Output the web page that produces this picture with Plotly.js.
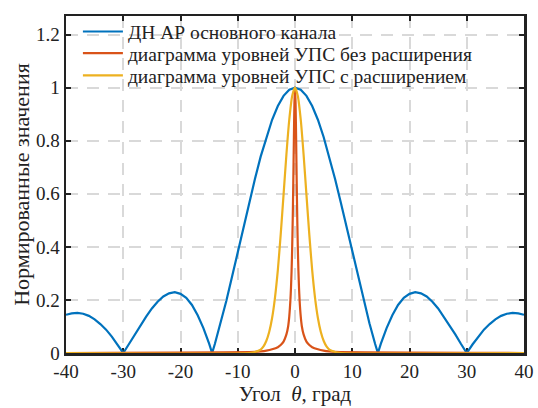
<!DOCTYPE html>
<html>
<head>
<meta charset="utf-8">
<script src="https://cdn.plot.ly/plotly-3.0.1.min.js"></script>
<style>html,body{margin:0;padding:0;background:#fff;}#chart{width:538px;height:408px;}</style>
</head>
<body>
<div id="chart"></div>
<script>
// Main array pattern (blue)
var blueTheta = [-40,-39,-38,-37,-36,-35,-34,-33,-32,-31,-30,-29,-28,-27,-26,-25,-24,-23,-22,-21,-20,-19,-18,-17,-16,-15,-14.48,-14,-13,-12,-11,-10,-9,-8,-7,-6,-5,-4,-3,-2,-1,0,1,2,3,4,5,6,7,8,9,10,11,12,13,14,14.48,15,16,17,18,19,20,21,22,23,24,25,26,27,28,29,30,31,32,33,34,35,36,37,38,39,40];
var blueVal = [0.144,0.149,0.151,0.148,0.140,0.127,0.109,0.088,0.062,0.032,0,0.034,0.070,0.104,0.137,0.168,0.193,0.213,0.225,0.229,0.223,0.208,0.181,0.142,0.094,0.035,0,0.034,0.112,0.196,0.287,0.380,0.474,0.567,0.656,0.740,0.814,0.879,0.931,0.969,0.992,1,0.992,0.969,0.931,0.879,0.814,0.740,0.656,0.567,0.474,0.380,0.287,0.196,0.112,0.034,0,0.035,0.094,0.142,0.181,0.208,0.223,0.229,0.225,0.213,0.193,0.168,0.137,0.104,0.070,0.034,0,0.032,0.062,0.088,0.109,0.127,0.140,0.148,0.151,0.149,0.144];

// Level diagram without expansion (red)
var redTheta = [-40,-7,-6,-5,-4,-3,-2.5,-2,-1.5,-1.2,-1,-0.8,-0.7,-0.6,-0.5,-0.4,-0.3,-0.2,-0.1,0,0.1,0.2,0.3,0.4,0.5,0.6,0.7,0.8,1,1.2,1.5,2,2.5,3,4,5,6,7,40];
var redVal = [0,0.004,0.006,0.009,0.014,0.022,0.03,0.043,0.07,0.1,0.138,0.2,0.246,0.308,0.39,0.5,0.64,0.8,0.941,1,0.941,0.8,0.64,0.5,0.39,0.308,0.246,0.2,0.138,0.1,0.07,0.043,0.03,0.022,0.014,0.009,0.006,0.004,0];

// Level diagram with expansion (yellow)
var yelTheta = [-40,-8,-7,-6,-5.5,-5,-4.5,-4,-3.5,-3,-2.5,-2,-1.5,-1,-0.5,0,0.5,1,1.5,2,2.5,3,3.5,4,4.5,5,5.5,6,7,8,40];
var yelVal = [0,0,0.004,0.013,0.025,0.046,0.08,0.132,0.208,0.312,0.446,0.596,0.748,0.88,0.968,1,0.968,0.88,0.748,0.596,0.446,0.312,0.208,0.132,0.08,0.046,0.025,0.013,0.004,0,0];

var names = ['ДН АР основного канала','диаграмма уровней УПС без расширения','диаграмма уровней УПС с расширением'];
var colors = ['#0072BD','#D95319','#EDB120'];
var xTicks = [-40,-30,-20,-10,0,10,20,30,40];
var yTicks = [0,0.2,0.4,0.6,0.8,1,1.2];
var yTickText = ['0','0.2','0.4','0.6','0.8','1','1.2'];

var font = "'Liberation Serif', 'Times New Roman', serif";
var traces = [
  {x: blueTheta, y: blueVal, name: names[0], mode: 'lines', legend: 'legend', line: {color: colors[0], width: 2.2}},
  {x: redTheta, y: redVal, name: names[1], mode: 'lines', legend: 'legend2', line: {color: colors[1], width: 2.2, shape: 'spline', smoothing: 0.6}},
  {x: yelTheta, y: yelVal, name: names[2], mode: 'lines', legend: 'legend3', line: {color: colors[2], width: 2.2, shape: 'spline', smoothing: 0.6}}
];
var axisCommon = {
  showline: true, linecolor: '#222', linewidth: 2.5, mirror: 'ticks',
  ticks: 'inside', ticklen: 5, tickwidth: 2, tickcolor: '#222',
  showgrid: true, gridcolor: '#d9d9d9', gridwidth: 2, griddash: '12px,9px',
  zeroline: false, layer: 'below traces',
  tickfont: {family: font, size: 19, color: '#222'}
};
function leg(yc) {
  return {x: 0.026, y: yc, xanchor: 'left', yanchor: 'middle', bgcolor: 'rgba(0,0,0,0)',
          font: {family: font, size: 19.5, color: '#222'}, itemwidth: 40};
}
var layout = {
  width: 538, height: 408,
  font: {family: font, color: '#222'},
  margin: {l: 66, r: 14, t: 12, b: 55},
  paper_bgcolor: '#fff', plot_bgcolor: '#fff',
  showlegend: true,
  legend: leg(0.953), legend2: leg(0.889), legend3: leg(0.823),
  xaxis: Object.assign({}, axisCommon, {range: [-40, 40], tickvals: xTicks, ticktext: xTicks.map(String),
           title: {text: 'Угол  <i>θ</i>, град', font: {family: font, size: 21, color: '#222'}, standoff: 2}}),
  yaxis: Object.assign({}, axisCommon, {range: [0, 1.27], tickvals: yTicks, ticktext: yTickText,
           title: {text: 'Нормированные значения', font: {family: font, size: 22, color: '#222'}, standoff: 1}})
};
Plotly.newPlot('chart', traces, layout, {displayModeBar: false, staticPlot: true});
</script>
</body>
</html>
